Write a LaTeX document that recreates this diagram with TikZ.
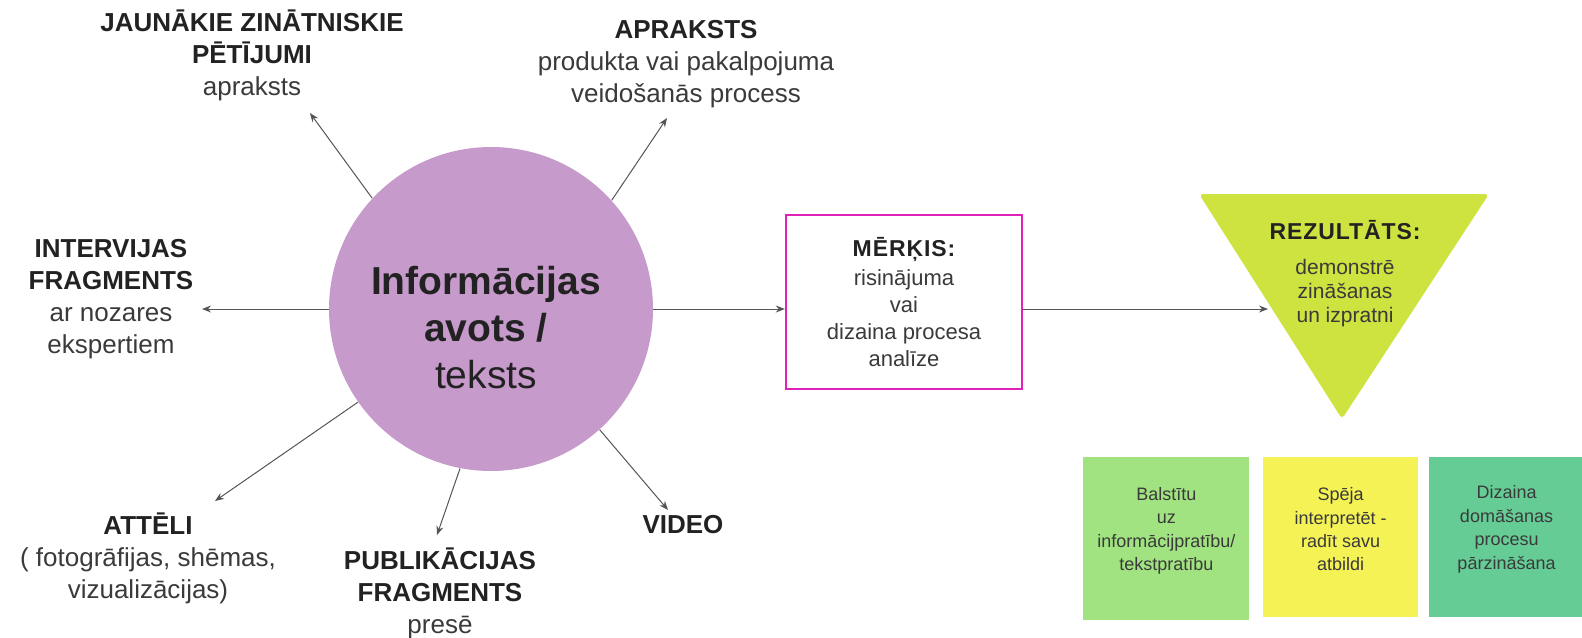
\documentclass[tikz,border=0pt]{standalone}
\usepackage{fontspec}
\setmainfont{Liberation Sans}
\newfontfamily\spacedbf[LetterSpace=4]{Liberation Sans}
\usetikzlibrary{arrows.meta,positioning}

\definecolor{lilac}{HTML}{C69BCC}
\definecolor{lime}{HTML}{CFE340}
\definecolor{magentaedge}{HTML}{E022B8}
\definecolor{cardgreen}{HTML}{A0E380}
\definecolor{cardyellow}{HTML}{F5F255}
\definecolor{cardteal}{HTML}{66CC96}
\definecolor{arrgray}{HTML}{555555}
\definecolor{txtgray}{HTML}{3A3A3A}
\definecolor{headgray}{HTML}{222222}

\newcommand{\hd}[1]{\textcolor{headgray}{\textbf{#1}}}

\begin{document}
\begin{tikzpicture}[
    x=0.5pt, y=-0.5pt,
    node distance=6pt,
    lbl/.style={align=center, text=txtgray, inner sep=0pt, font=\fontsize{13}{16}\selectfont},
    link/.style={-{Stealth[length=4.5pt,width=3.5pt]}, draw=arrgray, line width=0.5pt},
    card/.style={rectangle, minimum width=77.5pt, minimum height=80pt},
    cardtxt/.style={align=center, inner sep=0pt, yshift=4pt, text=txtgray, font=\fontsize{9}{11.7}\selectfont}
]
\useasboundingbox (0,0) rectangle (1582,637);

% Central source
\node[circle, fill=lilac, minimum size=162pt, inner sep=0pt] (info) at (491,309) {};
\node[align=center, text=headgray, inner sep=0pt, font=\fontsize{19.5}{23.5}\selectfont] (infotxt) at (486,328) {\textbf{Informācijas}\\\textbf{avots /}\\teksts};

% Kinds of sources round the circle
\node[lbl] (jz) at (252,55) {\hd{JAUNĀKIE ZINĀTNISKIE}\\\hd{PĒTĪJUMI}\\apraksts};
\node[lbl] (apr) at (686,64) {\hd{APRAKSTS}\\produkta vai pakalpojuma\\veidošanās process};
\node[lbl] (interv) at (111,299) {\hd{INTERVIJAS}\\\hd{FRAGMENTS}\\ar nozares\\ekspertiem};
\node[lbl] (att) at (148,558) {\hd{ATTĒLI}\\( fotogrāfijas, shēmas,\\vizualizācijas)};
\node[lbl] (publ) at (440,593) {\hd{PUBLIKĀCIJAS}\\\hd{FRAGMENTS}\\presē};
\node[lbl] (video) at (683,525) {\hd{VIDEO}};

\coordinate (jzend) at (310,113);
\coordinate (aprend) at (667,118);
\coordinate (intervend) at (202,309);
\coordinate (attend) at (215,501);
\coordinate (publend) at (437,535);
\coordinate (videoend) at (668,510);

\draw[link] (info.137) -- (jzend);
\draw[link] (info.42) -- (aprend);
\draw[link] (info.west) -- (intervend);
\draw[link] (info.215) -- (attend);
\draw[link] (info.259) -- (publend);
\draw[link] (info.-48) -- (videoend);

% Goal
\node[draw=magentaedge, line width=1.2pt, minimum width=118pt, minimum height=87pt, align=center, text=txtgray, font=\fontsize{11}{13.5}\selectfont] (merkis) at (904,302) {{\spacedbf\bfseries\color{headgray}\fontsize{11.5}{13.5}\selectfont MĒRĶIS:}\\[1pt]risinājuma\\vai\\dizaina procesa\\analīze};
\draw[link] (info.east) -- (info.east -| merkis.west);

% Result
\coordinate (tri1) at (1199,194);
\coordinate (tri2) at (1489,194);
\coordinate (tri3) at (1342,419);
\fill[lime, rounded corners=2pt] (tri1) -- (tri2) -- (tri3) -- cycle;
\node[inner sep=0pt, text=headgray, font=\spacedbf\bfseries\fontsize{11.5}{13.5}\selectfont] (rezhead) at (1345,230) {REZULTĀTS:};
\node[align=center, inner sep=0pt, text=txtgray, font=\fontsize{10.5}{12}\selectfont] (rezbody) at (1345,293) {demonstrē\\zināšanas\\un izpratni};
\coordinate (restip) at (1268,309);
\draw[link] (info.east -| merkis.east) -- (restip);

% Outcomes
\node[card, fill=cardgreen, minimum width=83pt, minimum height=81.5pt, anchor=north west,
      label={[cardtxt]center:Balstītu\\uz\\informācijpratību/\\tekstpratību}] (bals) at (1083,457) {};
\node[card, fill=cardyellow, right=6.5pt of bals.north east, anchor=north west,
      label={[cardtxt]center:Spēja\\interpretēt -\\radīt savu\\atbildi}] (speja) {};
\node[card, fill=cardteal, right=5pt of speja.north east, anchor=north west,
      label={[cardtxt]center:Dizaina\\domāšanas\\procesu\\pārzināšana}] (dizains) {};
\end{tikzpicture}
\end{document}
